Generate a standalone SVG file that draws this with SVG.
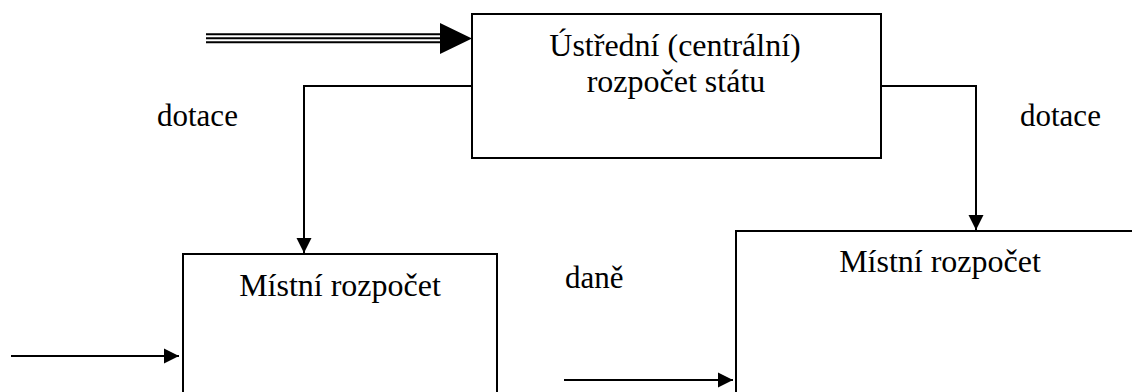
<svg xmlns="http://www.w3.org/2000/svg" width="1132" height="392" viewBox="0 0 1132 392">
<style>
.box{fill:none;stroke:#000;stroke-width:2}
.ln{fill:none;stroke:#000;stroke-width:2}
text{font-family:'Liberation Serif','Times New Roman','DejaVu Serif',serif;font-size:32px;fill:#000}
.m{text-anchor:middle}
.s{font-size:31px}
</style>
<defs>
<marker id="ah" markerWidth="16" markerHeight="16" refX="15" refY="8" orient="auto" markerUnits="userSpaceOnUse">
<path d="M0,0.5 L15,8 L0,15.5 Z" fill="#000"/>
</marker>
</defs>
<rect width="1132" height="392" fill="#fff"/>
<g id="central">
<rect class="box" x="472" y="14" width="409" height="144"/>
<text class="m" x="675" y="56">Ústřední (centrální)</text>
<text class="m" x="676" y="92">rozpočet státu</text>
</g>
<g id="local-left">
<path class="box" d="M183,392 V254 H497 V392"/>
<text class="m" x="340" y="296">Místní rozpočet</text>
</g>
<g id="local-right">
<path class="box" d="M736,392 V231 H1132"/>
<text class="m" x="940" y="272">Místní rozpočet</text>
</g>
<g id="connectors">
<line x1="206" y1="34.3" x2="445" y2="34.3" stroke="#000" stroke-width="2"/>
<line x1="206" y1="38.3" x2="445" y2="38.3" stroke="#000" stroke-width="2"/>
<line x1="206" y1="42.3" x2="445" y2="42.3" stroke="#000" stroke-width="2"/>
<path d="M440,23 L472,38.5 L440,54 Z" fill="#000"/>
<path class="ln" d="M472,86 H304 V253" marker-end="url(#ah)"/>
<path class="ln" d="M881,86 H976 V230" marker-end="url(#ah)"/>
<line class="ln" x1="11" y1="356" x2="179" y2="356" marker-end="url(#ah)"/>
<line class="ln" x1="564" y1="380" x2="733" y2="380" marker-end="url(#ah)"/>
<text class="s" x="157" y="126">dotace</text>
<text class="s" x="1020" y="126">dotace</text>
<text class="s" x="565" y="288">daně</text>
</g>
</svg>
